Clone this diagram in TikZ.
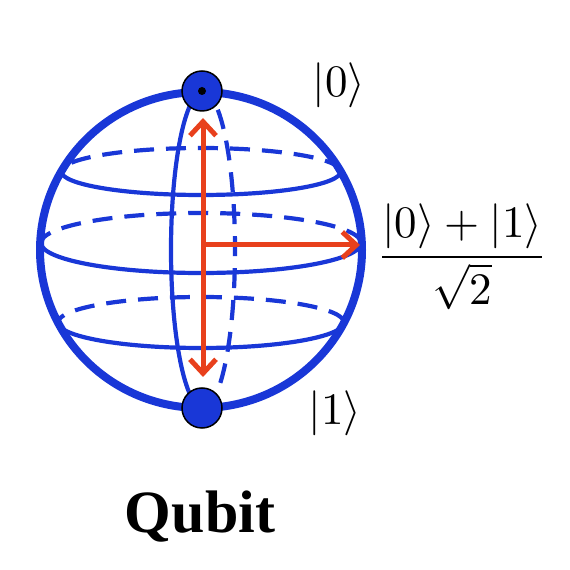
\documentclass[tikz,border=0pt]{standalone}
\usepackage{fontspec}
\usepackage{unicode-math}
\setmathfont{Latin Modern Math}
\newfontfamily\titlefont{Liberation Serif}
\usetikzlibrary{arrows.meta}

\definecolor{qblue}{RGB}{25,55,215}
\definecolor{qred}{RGB}{232,64,28}

\begin{document}
\begin{tikzpicture}[x=1pt, y=1pt,
  shell/.style={draw=qblue, line width=8pt},
  front/.style={draw=qblue, line width=4.2pt},
  back/.style={draw=qblue, line width=4.2pt, dash pattern=on 20pt off 12pt},
  vec/.style={draw=qred, line width=5pt, -{Straight Barb[length=14pt, width=26pt]}},
  pole/.style={circle, fill=qblue, draw=black, line width=1.5pt, minimum size=40pt, inner sep=0pt},
  ket/.style={inner sep=0pt, font=\fontsize{45}{54}\selectfont}
]
\useasboundingbox (0,0) rectangle (570,570);

% latitudes
\draw[front] (61.3,398.5) arc[start angle=180, end angle=360, x radius=139.7, y radius=23.5];
\draw[back]  (340.7,398.5) arc[start angle=0, end angle=180, x radius=139.7, y radius=23.5];
\draw[front] (41,327) arc[start angle=180, end angle=360, x radius=160, y radius=30];
\draw[back]  (361,327) arc[start angle=0, end angle=180, x radius=160, y radius=30];
\draw[front] (58,247.5) arc[start angle=180, end angle=360, x radius=143, y radius=25.5];
\draw[back]  (344,247.5) arc[start angle=0, end angle=180, x radius=143, y radius=25.5];

% meridian
\draw[front] (203,478) arc[start angle=90, end angle=270, x radius=32, y radius=158];
\draw[back]  (203,162) arc[start angle=-90, end angle=90, x radius=32, y radius=158];

% sphere
\draw[shell] (201,320) ellipse[x radius=161, y radius=158];

% state vectors
\coordinate (origin) at (203,325);
\coordinate (up)     at (203,452);
\coordinate (down)   at (203,193);
\coordinate (plus)   at (360,325);
\draw[vec] (origin) -- (up);
\draw[vec] (origin) -- (down);
\draw[vec] (origin) -- (plus);

% poles
\node[pole] (north) at (202,479) {};
\node[pole] (south) at (202,162) {};
\node[circle, fill=black, minimum size=8pt, inner sep=0pt] (dot) at (north) {};

% labels
\node[ket] (k0) at (339,485) {$|0\rangle$};
\node[ket] (k1) at (335,157) {$|1\rangle$};
\node[ket, anchor=base west] (kp) at (381,302) {$\dfrac{|0\rangle+|1\rangle}{\sqrt{2}}$};
\node[inner sep=0pt, anchor=base, font=\titlefont\bfseries\fontsize{60}{72}\selectfont] (title) at (200,37) {Qubit};

\end{tikzpicture}
\end{document}
